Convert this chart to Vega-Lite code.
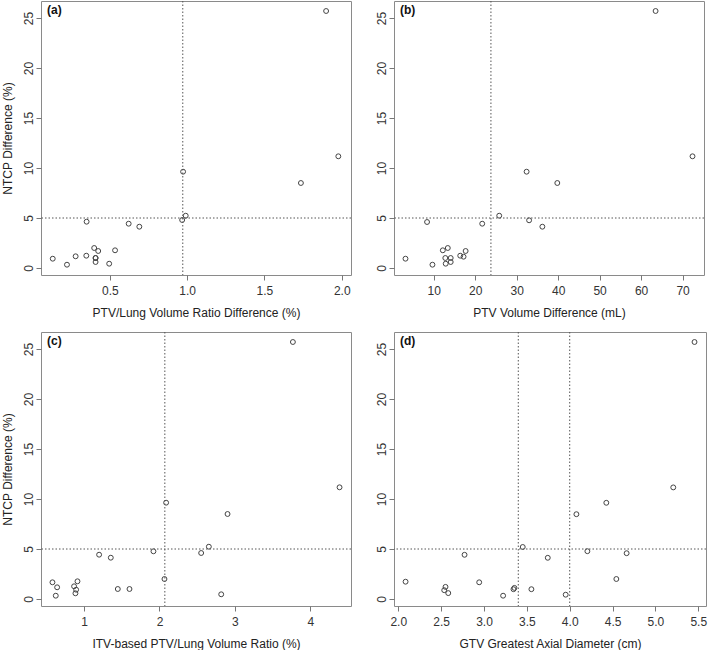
{
  "$schema": "https://vega.github.io/schema/vega-lite/v6.json",
  "padding": {"left": 0, "top": 0, "right": 0, "bottom": 0},
  "background": "white",
  "config": {
    "view": {"stroke": "#8a8a8a", "strokeWidth": 1},
    "font": "Liberation Sans",
    "axis": {
      "domain": false,
      "grid": false,
      "tickSize": 5,
      "tickColor": "#777",
      "labelColor": "#333",
      "titleColor": "#222",
      "labelFont": "Liberation Sans",
      "titleFont": "Liberation Sans",
      "labelFontSize": 12,
      "titleFontSize": 12,
      "titleFontWeight": "normal"
    },
    "axisX": {"labelPadding": 5, "titlePadding": 11},
    "axisY": {"labelAngle": 270, "labelAlign": "center", "labelBaseline": "alphabetic", "labelPadding": 4, "titlePadding": 8},
    "title": {"anchor": "start", "frame": "group", "fontSize": 12, "fontWeight": "bold", "color": "#111", "baseline": "alphabetic", "offset": -16, "dx": 6}
  },
  "datasets": {
    "a": [
      {"ptv_lung_ratio_diff": 1.899, "ntcp_diff": 25.7},
      {"ptv_lung_ratio_diff": 1.978, "ntcp_diff": 11.17},
      {"ptv_lung_ratio_diff": 0.974, "ntcp_diff": 9.63},
      {"ptv_lung_ratio_diff": 1.736, "ntcp_diff": 8.5},
      {"ptv_lung_ratio_diff": 0.991, "ntcp_diff": 5.23},
      {"ptv_lung_ratio_diff": 0.968, "ntcp_diff": 4.8},
      {"ptv_lung_ratio_diff": 0.35, "ntcp_diff": 4.63},
      {"ptv_lung_ratio_diff": 0.622, "ntcp_diff": 4.43},
      {"ptv_lung_ratio_diff": 0.691, "ntcp_diff": 4.13},
      {"ptv_lung_ratio_diff": 0.399, "ntcp_diff": 2.0},
      {"ptv_lung_ratio_diff": 0.425, "ntcp_diff": 1.7},
      {"ptv_lung_ratio_diff": 0.534, "ntcp_diff": 1.77},
      {"ptv_lung_ratio_diff": 0.131, "ntcp_diff": 0.93},
      {"ptv_lung_ratio_diff": 0.279, "ntcp_diff": 1.17},
      {"ptv_lung_ratio_diff": 0.348, "ntcp_diff": 1.23},
      {"ptv_lung_ratio_diff": 0.408, "ntcp_diff": 1.0},
      {"ptv_lung_ratio_diff": 0.408, "ntcp_diff": 1.0},
      {"ptv_lung_ratio_diff": 0.408, "ntcp_diff": 0.6},
      {"ptv_lung_ratio_diff": 0.223, "ntcp_diff": 0.33},
      {"ptv_lung_ratio_diff": 0.496, "ntcp_diff": 0.43}
    ],
    "b": [
      {"ptv_volume_diff": 63.5, "ntcp_diff": 25.7},
      {"ptv_volume_diff": 72.4, "ntcp_diff": 11.17},
      {"ptv_volume_diff": 32.4, "ntcp_diff": 9.63},
      {"ptv_volume_diff": 39.8, "ntcp_diff": 8.5},
      {"ptv_volume_diff": 25.8, "ntcp_diff": 5.23},
      {"ptv_volume_diff": 33.0, "ntcp_diff": 4.77},
      {"ptv_volume_diff": 8.4, "ntcp_diff": 4.6},
      {"ptv_volume_diff": 21.7, "ntcp_diff": 4.43},
      {"ptv_volume_diff": 36.2, "ntcp_diff": 4.13},
      {"ptv_volume_diff": 13.4, "ntcp_diff": 2.0},
      {"ptv_volume_diff": 12.2, "ntcp_diff": 1.77},
      {"ptv_volume_diff": 17.7, "ntcp_diff": 1.7},
      {"ptv_volume_diff": 3.2, "ntcp_diff": 0.93},
      {"ptv_volume_diff": 16.4, "ntcp_diff": 1.23},
      {"ptv_volume_diff": 17.2, "ntcp_diff": 1.13},
      {"ptv_volume_diff": 12.8, "ntcp_diff": 1.0},
      {"ptv_volume_diff": 14.1, "ntcp_diff": 1.0},
      {"ptv_volume_diff": 12.9, "ntcp_diff": 0.43},
      {"ptv_volume_diff": 14.1, "ntcp_diff": 0.6},
      {"ptv_volume_diff": 9.7, "ntcp_diff": 0.33}
    ],
    "c": [
      {"itv_ptv_lung_ratio": 3.77, "ntcp_diff": 25.7},
      {"itv_ptv_lung_ratio": 4.389, "ntcp_diff": 11.17},
      {"itv_ptv_lung_ratio": 2.088, "ntcp_diff": 9.63},
      {"itv_ptv_lung_ratio": 2.903, "ntcp_diff": 8.5},
      {"itv_ptv_lung_ratio": 2.655, "ntcp_diff": 5.23},
      {"itv_ptv_lung_ratio": 1.92, "ntcp_diff": 4.77},
      {"itv_ptv_lung_ratio": 2.553, "ntcp_diff": 4.6},
      {"itv_ptv_lung_ratio": 1.199, "ntcp_diff": 4.43},
      {"itv_ptv_lung_ratio": 1.354, "ntcp_diff": 4.13},
      {"itv_ptv_lung_ratio": 2.066, "ntcp_diff": 2.0},
      {"itv_ptv_lung_ratio": 0.58, "ntcp_diff": 1.67},
      {"itv_ptv_lung_ratio": 0.912, "ntcp_diff": 1.77},
      {"itv_ptv_lung_ratio": 0.642, "ntcp_diff": 1.17},
      {"itv_ptv_lung_ratio": 0.867, "ntcp_diff": 1.27},
      {"itv_ptv_lung_ratio": 0.894, "ntcp_diff": 0.93},
      {"itv_ptv_lung_ratio": 0.885, "ntcp_diff": 0.57},
      {"itv_ptv_lung_ratio": 0.624, "ntcp_diff": 0.33},
      {"itv_ptv_lung_ratio": 1.447, "ntcp_diff": 1.0},
      {"itv_ptv_lung_ratio": 1.602, "ntcp_diff": 1.0},
      {"itv_ptv_lung_ratio": 2.819, "ntcp_diff": 0.47}
    ],
    "d": [
      {"gtv_diameter": 5.456, "ntcp_diff": 25.7},
      {"gtv_diameter": 5.208, "ntcp_diff": 11.16},
      {"gtv_diameter": 4.427, "ntcp_diff": 9.62},
      {"gtv_diameter": 4.078, "ntcp_diff": 8.48},
      {"gtv_diameter": 3.452, "ntcp_diff": 5.2},
      {"gtv_diameter": 4.206, "ntcp_diff": 4.78},
      {"gtv_diameter": 4.664, "ntcp_diff": 4.58},
      {"gtv_diameter": 2.773, "ntcp_diff": 4.42},
      {"gtv_diameter": 3.744, "ntcp_diff": 4.12},
      {"gtv_diameter": 2.085, "ntcp_diff": 1.73},
      {"gtv_diameter": 2.944, "ntcp_diff": 1.67},
      {"gtv_diameter": 4.544, "ntcp_diff": 2.0},
      {"gtv_diameter": 2.551, "ntcp_diff": 1.21},
      {"gtv_diameter": 2.536, "ntcp_diff": 0.88},
      {"gtv_diameter": 2.583, "ntcp_diff": 0.59},
      {"gtv_diameter": 3.223, "ntcp_diff": 0.33},
      {"gtv_diameter": 3.344, "ntcp_diff": 0.98},
      {"gtv_diameter": 3.355, "ntcp_diff": 1.11},
      {"gtv_diameter": 3.553, "ntcp_diff": 0.98},
      {"gtv_diameter": 3.953, "ntcp_diff": 0.43}
    ]
  },
  "bounds": "flush",
  "columns": 2,
  "spacing": {"row": 57, "column": 43},
  "concat": [
    {
      "width": 310,
      "height": 274,
      "title": {"text": "(a)"},
      "layer": [
        {
          "data": {"name": "a"},
          "mark": {"type": "point", "shape": "circle", "filled": false, "stroke": "#444", "strokeWidth": 1, "size": 24, "opacity": 1},
          "encoding": {
            "x": {"field": "ptv_lung_ratio_diff", "type": "quantitative", "scale": {"domain": [0.055, 2.06], "nice": false, "zero": false}, "axis": {"values": [0.5, 1.0, 1.5, 2.0], "format": ".1f", "title": "PTV/Lung Volume Ratio Difference (%)"}},
            "y": {"field": "ntcp_diff", "type": "quantitative", "scale": {"domain": [-0.7, 26.7], "nice": false, "zero": false}, "axis": {"values": [0, 5, 10, 15, 20, 25], "format": "d", "title": "NTCP Difference (%)"}}
          }
        },
        {
          "data": {"values": [{"cut": 0.972}]},
          "mark": {"type": "rule", "color": "#555", "strokeWidth": 1, "strokeDash": [1.5, 2]},
          "encoding": {"x": {"field": "cut", "type": "quantitative"}}
        },
        {
          "data": {"values": [{"cut": 5}]},
          "mark": {"type": "rule", "color": "#555", "strokeWidth": 1, "strokeDash": [1.5, 2]},
          "encoding": {"y": {"field": "cut", "type": "quantitative"}}
        }
      ]
    },
    {
      "width": 310,
      "height": 274,
      "title": {"text": "(b)"},
      "layer": [
        {
          "data": {"name": "b"},
          "mark": {"type": "point", "shape": "circle", "filled": false, "stroke": "#444", "strokeWidth": 1, "size": 24, "opacity": 1},
          "encoding": {
            "x": {"field": "ptv_volume_diff", "type": "quantitative", "scale": {"domain": [0.43, 75.17], "nice": false, "zero": false}, "axis": {"values": [10, 20, 30, 40, 50, 60, 70], "format": "d", "title": "PTV Volume Difference (mL)"}},
            "y": {"field": "ntcp_diff", "type": "quantitative", "scale": {"domain": [-0.7, 26.7], "nice": false, "zero": false}, "axis": {"values": [0, 5, 10, 15, 20, 25], "format": "d", "title": null}}
          }
        },
        {
          "data": {"values": [{"cut": 23.8}]},
          "mark": {"type": "rule", "color": "#555", "strokeWidth": 1, "strokeDash": [1.5, 2]},
          "encoding": {"x": {"field": "cut", "type": "quantitative"}}
        },
        {
          "data": {"values": [{"cut": 5}]},
          "mark": {"type": "rule", "color": "#555", "strokeWidth": 1, "strokeDash": [1.5, 2]},
          "encoding": {"y": {"field": "cut", "type": "quantitative"}}
        }
      ]
    },
    {
      "width": 310,
      "height": 274,
      "title": {"text": "(c)"},
      "layer": [
        {
          "data": {"name": "c"},
          "mark": {"type": "point", "shape": "circle", "filled": false, "stroke": "#444", "strokeWidth": 1, "size": 24, "opacity": 1},
          "encoding": {
            "x": {"field": "itv_ptv_lung_ratio", "type": "quantitative", "scale": {"domain": [0.428, 4.541], "nice": false, "zero": false}, "axis": {"values": [1, 2, 3, 4], "format": "d", "title": "ITV-based PTV/Lung Volume Ratio (%)"}},
            "y": {"field": "ntcp_diff", "type": "quantitative", "scale": {"domain": [-0.7, 26.7], "nice": false, "zero": false}, "axis": {"values": [0, 5, 10, 15, 20, 25], "format": "d", "title": "NTCP Difference (%)"}}
          }
        },
        {
          "data": {"values": [{"cut": 2.071}]},
          "mark": {"type": "rule", "color": "#555", "strokeWidth": 1, "strokeDash": [1.5, 2]},
          "encoding": {"x": {"field": "cut", "type": "quantitative"}}
        },
        {
          "data": {"values": [{"cut": 5}]},
          "mark": {"type": "rule", "color": "#555", "strokeWidth": 1, "strokeDash": [1.5, 2]},
          "encoding": {"y": {"field": "cut", "type": "quantitative"}}
        }
      ]
    },
    {
      "width": 312,
      "height": 274,
      "title": {"text": "(d)"},
      "layer": [
        {
          "data": {"name": "d"},
          "mark": {"type": "point", "shape": "circle", "filled": false, "stroke": "#444", "strokeWidth": 1, "size": 24, "opacity": 1},
          "encoding": {
            "x": {"field": "gtv_diameter", "type": "quantitative", "scale": {"domain": [1.95, 5.59], "nice": false, "zero": false}, "axis": {"values": [2.0, 2.5, 3.0, 3.5, 4.0, 4.5, 5.0, 5.5], "format": ".1f", "title": "GTV Greatest Axial Diameter (cm)"}},
            "y": {"field": "ntcp_diff", "type": "quantitative", "scale": {"domain": [-0.7, 26.7], "nice": false, "zero": false}, "axis": {"values": [0, 5, 10, 15, 20, 25], "format": "d", "title": null}}
          }
        },
        {
          "data": {"values": [{"cut": 3.4}, {"cut": 4.0}]},
          "mark": {"type": "rule", "color": "#555", "strokeWidth": 1, "strokeDash": [1.5, 2]},
          "encoding": {"x": {"field": "cut", "type": "quantitative"}}
        },
        {
          "data": {"values": [{"cut": 5}]},
          "mark": {"type": "rule", "color": "#555", "strokeWidth": 1, "strokeDash": [1.5, 2]},
          "encoding": {"y": {"field": "cut", "type": "quantitative"}}
        }
      ]
    }
  ]
}
